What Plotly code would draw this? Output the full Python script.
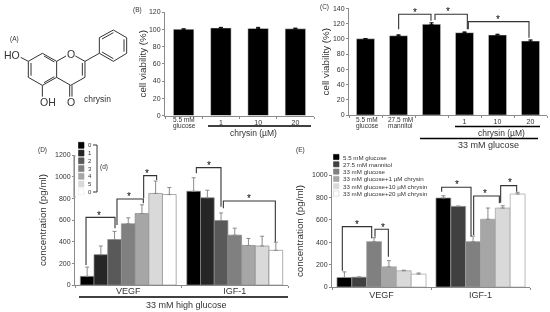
import plotly.graph_objects as go

W, H = 550, 312
FONT = "Liberation Sans"
INK = "#333333"
GREY = "#8a8a8a"

# ---- data ----
b_labels = ["5.5 mM glucose", "1", "10", "20"]
b_values = [100, 101.5, 101, 100.5]
b_errors = [0.5, 0.7, 1.2, 0.8]

c_labels = ["5.5 mM glucose", "27.5 mM mannitol", "33 mM glucose", "1", "10", "20"]
c_values = [100, 104, 119, 108, 105, 97]
c_errors = [0, 1.2, 2, 1, 1, 1.5]

groups = ["VEGF", "IGF-1"]

d_names = ["0", "1", "2", "3", "4", "5", "6"]
d_shown = ["0", "1", "2", "3", "4", "5", "0"]
d_colors = ["#000000", "#262626", "#595959", "#808080", "#a6a6a6", "#d9d9d9", "#ffffff"]
d_vegf = [80, 280, 420, 565, 660, 845, 835]
d_vegf_err = [85, 80, 75, 55, 80, 115, 65]
d_igf = [865, 805, 595, 460, 365, 360, 320]
d_igf_err = [125, 70, 70, 65, 65, 90, 75]

e_names = ["5.5 mM glucose", "27.5 mM mannitol", "33 mM glucose",
           "33 mM glucose+1 µM chrysin", "33 mM glucose+10 µM chrysin",
           "33 mM glucose+20 µM chrysin"]
e_colors = ["#000000", "#404040", "#808080", "#a6a6a6", "#d9d9d9", "#ffffff"]
e_vegf = [85, 88, 405, 180, 145, 115]
e_vegf_err = [50, 2, 35, 55, 5, 10]
e_igf = [795, 720, 405, 605, 705, 830]
e_igf_err = [20, 3, 50, 100, 20, 15]


def px(x):
    return x / W


def py(y):
    return 1 - y / H


fig = go.Figure()


def err(vals, color="#000000"):
    return dict(type="data", symmetric=False, array=vals, arrayminus=[0] * len(vals),
                color=color, thickness=1, width=2)


def xaxis_style(left, right, anchor, fs=7, labels=None, shift=0):
    d = dict(domain=[px(left), px(right)], anchor=anchor, showgrid=False, zeroline=False,
             showline=True, linecolor=GREY, linewidth=1, ticks="outside", ticklen=2,
             tickwidth=1, tickcolor=GREY, tickson="boundaries", tickangle=0,
             ticklabelstandoff=shift,
             tickfont=dict(family=FONT, size=fs, color=INK), type="category", automargin=False)
    if labels is not None:
        # long labels get two tight lines as annotations below; numbers stay tick labels
        d.update(tickmode="array", tickvals=labels,
                 ticktext=[s if s.isdigit() else " " for s in labels])
    return d


def yaxis_style(top, bottom, anchor, maxv, dtick, title, standoff, tfs):
    return dict(domain=[py(bottom), py(top)], anchor=anchor, range=[0, maxv], dtick=dtick,
                showgrid=False, zeroline=False, showline=True, linecolor=GREY, linewidth=1,
                ticks="outside", ticklen=2, tickwidth=1, tickcolor=GREY, automargin=False,
                tickfont=dict(family=FONT, size=7, color=INK),
                title=dict(text=title, standoff=standoff, font=dict(family=FONT, size=tfs, color=INK)))


# panel B
fig.add_trace(go.Bar(x=b_labels, y=b_values, error_y=err(b_errors), marker_color="#000000",
                     xaxis="x", yaxis="y", showlegend=False, width=0.55))
# panel C
fig.add_trace(go.Bar(x=c_labels, y=c_values, error_y=err(c_errors), marker_color="#000000",
                     xaxis="x2", yaxis="y2", showlegend=False, width=0.55))
# panel D
for i, name in enumerate(d_names):
    fig.add_trace(go.Bar(x=groups, y=[d_vegf[i], d_igf[i]], name=name,
                         error_y=err([d_vegf_err[i], d_igf_err[i]], GREY),
                         marker=dict(color=d_colors[i], line=dict(color="#8c8c8c", width=0.7)),
                         xaxis="x3", yaxis="y3", showlegend=False))
# panel E
for i, name in enumerate(e_names):
    fig.add_trace(go.Bar(x=groups, y=[e_vegf[i], e_igf[i]], name=name,
                         error_y=err([e_vegf_err[i], e_igf_err[i]], GREY),
                         marker=dict(color=e_colors[i], line=dict(color="#a0a0a0", width=0.7)),
                         xaxis="x4", yaxis="y4", showlegend=False))

shapes = []
annots = []


def poly(points, color="#333333", width=1.1):
    path = "M" + " L".join("%.4f,%.4f" % (px(x), py(y)) for x, y in points)
    shapes.append(dict(type="path", xref="paper", yref="paper", path=path,
                       line=dict(color=color, width=width)))


def text(x, y, s, size=9, anchor="center", color=INK):
    annots.append(dict(x=px(x), y=py(y), xref="paper", yref="paper", text=s, showarrow=False,
                       font=dict(family=FONT, size=size, color=color), xanchor=anchor,
                       yanchor="middle", align="center", borderpad=0))


def rect(x0, y0, x1, y1, color, line=None):
    shapes.append(dict(type="rect", xref="paper", yref="paper", x0=px(x0), x1=px(x1),
                       y0=py(y0), y1=py(y1), fillcolor=color,
                       line=dict(color=line or color, width=0.6)))


def br(ox, oy, pts, star):
    poly([(ox + a / 3, oy + b / 3) for a, b in pts])
    text(ox + star[0] / 3, oy + star[1] / 3 + 1.5, "*", size=10, color="#000000")


# C
br(275, 0, [(371, 88), (371, 43), (468, 43), (468, 62)], (421, 33))
br(275, 0, [(480, 60), (480, 43), (577, 43), (577, 88)], (519, 31))
br(275, 0, [(580, 88), (580, 65), (762, 65), (762, 113)], (668, 53))
# D
br(0, 140, [(258, 375), (258, 232), (345, 232), (345, 265)], (298, 222))
br(0, 140, [(351, 255), (351, 177), (430, 177), (430, 190)], (388, 165))
br(0, 140, [(431, 175), (431, 107), (470, 107), (470, 120)], (442, 96))
br(0, 140, [(589, 100), (589, 83), (663, 83), (663, 200)], (628, 73))
br(0, 140, [(670, 205), (670, 183), (826, 183), (826, 305)], (747, 171))
# E
br(285, 140, [(172, 392), (172, 260), (260, 260), (260, 295)], (217, 248))
br(285, 140, [(270, 290), (270, 268), (310, 268), (310, 350)], (293, 258))
br(285, 140, [(470, 155), (470, 142), (558, 142), (558, 290)], (515, 130))
br(285, 140, [(566, 285), (566, 168), (643, 168), (643, 190)], (600, 157))
br(285, 140, [(647, 188), (647, 137), (695, 137), (695, 155)], (674, 124))

# underlines
poly([(208, 126), (311, 126)], "#000000", 1.6)
poly([(455, 126.5), (540, 126.5)], "#000000", 1.6)
poly([(420, 138.5), (538, 138.5)], "#000000", 1.6)
poly([(79, 297), (288, 297)], "#000000", 1.6)

# two-line tick captions
for cx, top, bottom in [(184, "5.5 mM", "glucose"), (367, "5.5 mM", "glucose"), (400, "27.5 mM", "mannitol")]:
    text(cx, 119.5, top, 6.5)
    text(cx, 125.5, bottom, 6.5)

# text labels
text(14, 38.5, "(A)", 6.5)
text(137, 9.5, "(B)", 6.5)
text(324, 7, "(C)", 6.5)
text(42, 149.5, "(D)", 6.5)
text(300, 150, "(E)", 6.5)
text(253, 132.5, "chrysin (µM)", 8.5)
text(501, 132.5, "chrysin (µM)", 8.5)
text(488, 145, "33 mM glucose", 9)
text(186, 304.5, "33 mM high glucose", 9)
text(104, 166.5, "(d)", 6.5)
text(97.5, 99, "chrysin", 8.5)


# molecule (crop-space / 3)
def mol(pts):
    poly([(a / 3, b / 3) for a, b in pts], "#333333", 1)


mol([(62, 172), (85, 184), (85, 232), (127, 256), (170, 232), (170, 184), (127, 160), (85, 184)])
mol([(93, 189), (93, 227)])
mol([(132, 168), (163, 186)])
mol([(132, 248), (163, 230)])
mol([(170, 184), (198, 168)])
mol([(226, 168), (255, 184), (255, 232), (212, 256), (170, 232)])
mol([(247, 189), (247, 227)])
mol([(127, 256), (127, 290)])
mol([(209, 256), (209, 290)])
mol([(216, 256), (216, 290)])
mol([(255, 184), (298, 160), (298, 113), (340, 90), (380, 113), (380, 160), (340, 184), (298, 160)])
mol([(306, 117), (340, 98)])
mol([(372, 118), (372, 155)])
mol([(340, 176), (306, 156)])
text(12, 55, "HO", 10.5)
text(70.5, 53.5, "O", 10.5)
text(47.5, 102.5, "OH", 10.5)
text(71, 102.5, "O", 10.5)

# legend D (built from the series lists)
for i, lab in enumerate(d_shown):
    y = 145.3 + i * 7.75
    rect(78.5, y - 3, 84, y + 3, d_colors[i], "#e6e6e6" if i == 6 else None)
    text(90, y, lab, 6)
poly([(93, 145), (97, 145), (97, 192), (93, 192)], "#333333", 1)
poly([(76, 156), (73.5, 156), (73.5, 197), (76, 197)], "#aaaaaa", 0.8)

# legend E
for i, lab in enumerate(e_names):
    y = 157 + i * 7.3
    rect(333.5, y - 2.6, 339, y + 2.6, e_colors[i], "#cccccc" if i == 5 else None)
    text(342, y, lab, 6.2, anchor="left")

fig.update_layout(
    width=W, height=H, autosize=False,
    margin=dict(l=0, r=0, t=0, b=0), paper_bgcolor="#ffffff", plot_bgcolor="#ffffff",
    showlegend=False, barmode="group", bargap=0.1, bargroupgap=0,
    shapes=shapes, annotations=annots,
    font=dict(family=FONT),
    xaxis=xaxis_style(165, 314, "y", labels=b_labels),
    yaxis=yaxis_style(12, 115.5, "x", 120, 20, "cell viability (%)", 0, 9.8),
    xaxis2=xaxis_style(349, 547, "y2", labels=c_labels),
    yaxis2=yaxis_style(8.3, 115, "x2", 140, 20, "cell viability (%)", 1, 9.8),
    xaxis3=xaxis_style(75, 288, "y3", fs=9, shift=-3),
    yaxis3=yaxis_style(155, 285, "x3", 1200, 200, "concentration (pg/ml)", 6, 9.8),
    xaxis4=xaxis_style(332, 530, "y4", fs=9, shift=-1),
    yaxis4=yaxis_style(175, 287, "x4", 1000, 200, "concentration (pg/ml)", 6, 9.8),
)

fig.write_html("out.html", config=dict(displayModeBar=False),
               post_script="document.body.style.margin='0';document.body.style.overflow='hidden';"
                           "document.body.style.filter='grayscale(1)';")
